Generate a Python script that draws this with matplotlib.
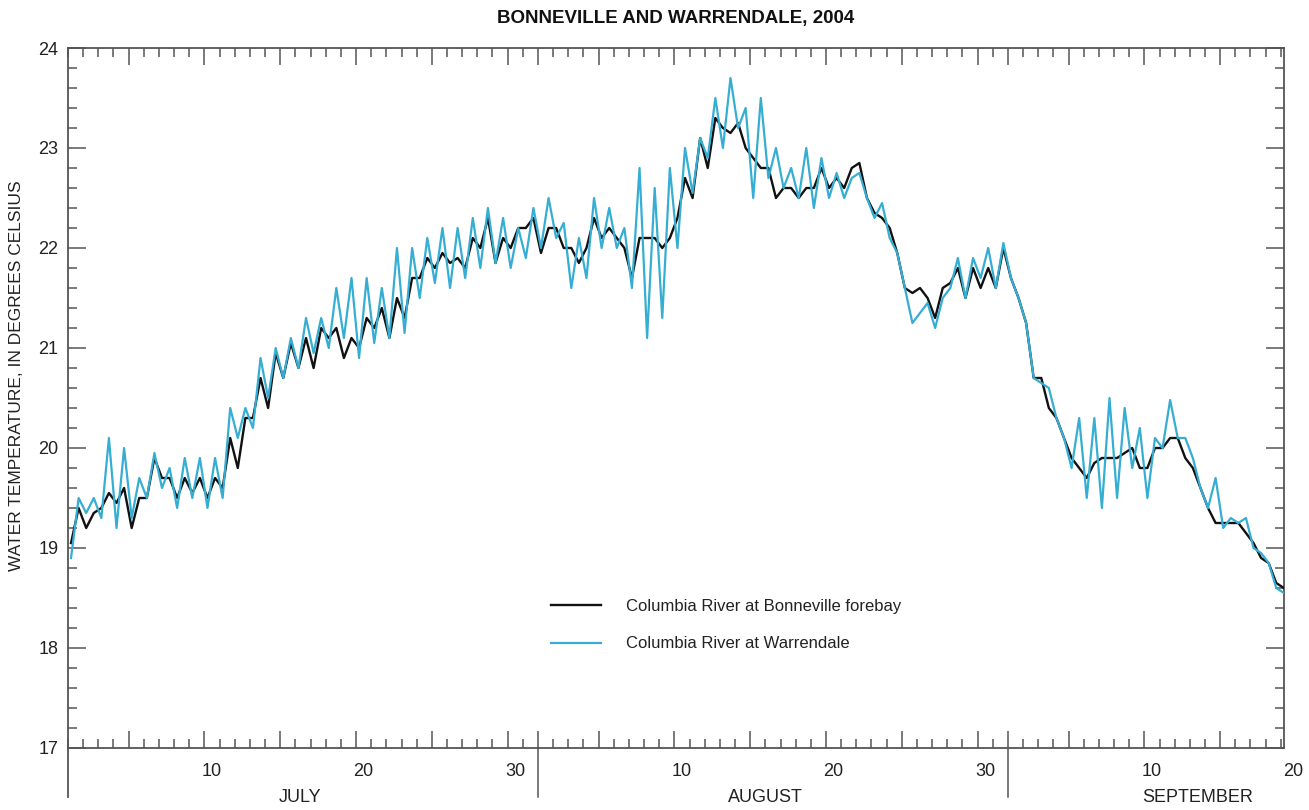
import numpy as np
import matplotlib
matplotlib.use("Agg")
import matplotlib.pyplot as plt
from matplotlib import font_manager
from matplotlib.ticker import MultipleLocator, FixedLocator
from matplotlib.lines import Line2D

# ---------------- data ----------------
# two readings per day (early-morning low, late-afternoon high), July 1 -> Sept 20, 2004
samples_per_day = 2
sample_offset = 0.2   # day fraction of first reading

bonneville = [
    19.05, 19.4, 19.2, 19.35, 19.4, 19.55, 19.45, 19.6, 19.2, 19.5,
    19.5, 19.9, 19.7, 19.7, 19.5, 19.7, 19.55, 19.7, 19.5, 19.7,
    19.6, 20.1, 19.8, 20.3, 20.3, 20.7, 20.4, 20.95, 20.7, 21.05,
    20.8, 21.1, 20.8, 21.2, 21.1, 21.2, 20.9, 21.1, 21.0, 21.3,
    21.2, 21.4, 21.1, 21.5, 21.3, 21.7, 21.7, 21.9, 21.8, 21.95,
    21.85, 21.9, 21.8, 22.1, 22.0, 22.3, 21.85, 22.1, 22.0, 22.2,
    22.2, 22.3, 21.95, 22.2, 22.2, 22.0, 22.0, 21.85, 22.0, 22.3,
    22.1, 22.2, 22.1, 22.0, 21.7, 22.1, 22.1, 22.1, 22.0, 22.1,
    22.3, 22.7, 22.5, 23.1, 22.8, 23.3, 23.2, 23.15, 23.25, 23.0,
    22.9, 22.8, 22.8, 22.5, 22.6, 22.6, 22.5, 22.6, 22.6, 22.8,
    22.6, 22.7, 22.6, 22.8, 22.85, 22.5, 22.35, 22.3, 22.2, 21.95,
    21.6, 21.55, 21.6, 21.5, 21.3, 21.6, 21.65, 21.8, 21.5, 21.8,
    21.6, 21.8, 21.6, 22.0, 21.7, 21.5, 21.25, 20.7, 20.7, 20.4,
    20.3, 20.1, 19.9, 19.8, 19.7, 19.85, 19.9, 19.9, 19.9, 19.95,
    20.0, 19.8, 19.8, 20.0, 20.0, 20.1, 20.1, 19.9, 19.8, 19.6,
    19.4, 19.25, 19.25, 19.25, 19.25, 19.15, 19.05, 18.9, 18.85, 18.65,
    18.6,
]

warrendale = [
    18.9, 19.5, 19.35, 19.5, 19.3, 20.1, 19.2, 20.0, 19.3, 19.7,
    19.5, 19.95, 19.6, 19.8, 19.4, 19.9, 19.5, 19.9, 19.4, 19.9,
    19.5, 20.4, 20.1, 20.4, 20.2, 20.9, 20.5, 21.0, 20.7, 21.1,
    20.8, 21.3, 20.95, 21.3, 21.0, 21.6, 21.1, 21.7, 20.9, 21.7,
    21.05, 21.6, 21.1, 22.0, 21.15, 22.0, 21.5, 22.1, 21.65, 22.2,
    21.6, 22.2, 21.7, 22.3, 21.8, 22.4, 21.85, 22.3, 21.8, 22.2,
    21.9, 22.4, 22.0, 22.5, 22.1, 22.25, 21.6, 22.1, 21.7, 22.5,
    22.0, 22.4, 22.0, 22.2, 21.6, 22.8, 21.1, 22.6, 21.3, 22.8,
    22.0, 23.0, 22.55, 23.1, 22.9, 23.5, 23.0, 23.7, 23.2, 23.4,
    22.5, 23.5, 22.7, 23.0, 22.6, 22.8, 22.5, 23.0, 22.4, 22.9,
    22.5, 22.75, 22.5, 22.7, 22.75, 22.5, 22.3, 22.45, 22.1, 21.95,
    21.6, 21.25, 21.35, 21.45, 21.2, 21.5, 21.6, 21.9, 21.5, 21.9,
    21.7, 22.0, 21.6, 22.05, 21.7, 21.5, 21.25, 20.7, 20.65, 20.6,
    20.3, 20.1, 19.8, 20.3, 19.5, 20.3, 19.4, 20.5, 19.5, 20.4,
    19.8, 20.2, 19.5, 20.1, 20.0, 20.48, 20.1, 20.1, 19.9, 19.6,
    19.4, 19.7, 19.2, 19.3, 19.25, 19.3, 19.0, 18.95, 18.85, 18.6,
    18.55,
]

series_labels = ["Columbia River at Bonneville forebay", "Columbia River at Warrendale"]
months = ["JULY", "AUGUST", "SEPTEMBER"]
month_lengths = [31, 31, 20]
day_labels = ["10", "20", "30", "10", "20", "30", "10", "20"]
title = "BONNEVILLE AND WARRENDALE, 2004"
ylabel = "WATER TEMPERATURE, IN DEGREES CELSIUS"

# ---------------- styling ----------------
avail = {f.name for f in font_manager.fontManager.ttflist}
fam = "Liberation Sans Narrow" if "Liberation Sans Narrow" in avail else (
    "Liberation Sans" if "Liberation Sans" in avail else "DejaVu Sans")
plt.rcParams["font.family"] = [fam, "DejaVu Sans"]

W, H = 1309, 810
fig = plt.figure(figsize=(W / 100, H / 100), dpi=100)
fig.patch.set_facecolor("white")
L, R, T, B = 68, 1284, 48, 748
ax = fig.add_axes([L / W, 1 - B / H, (R - L) / W, (B - T) / H])

t = sample_offset + np.arange(len(bonneville)) / samples_per_day
black_c = "#111111"
cyan_c = "#36aed3"
ax.plot(t, bonneville, color=black_c, lw=1.7, label=series_labels[0], zorder=3)
ax.plot(t, warrendale, color=cyan_c, lw=1.6, label=series_labels[1], zorder=4)

xmax = (R - L) / 15.16
ax.set_xlim(0, xmax)
ax.set_ylim(17, 24)

spine_c = "#555555"
for s in ax.spines.values():
    s.set_color(spine_c)
    s.set_linewidth(1.3)

txt_c = "#222222"
fs = 13

# y ticks
ax.yaxis.set_minor_locator(MultipleLocator(0.2))
ax.tick_params(axis="y", which="major", direction="in", length=13, width=1.1,
               color=spine_c, left=True, right=True, labelsize=fs, pad=7,
               labelcolor=txt_c)
ax.tick_params(axis="y", which="minor", direction="in", length=6.5, width=1.1,
               color=spine_c, left=True, right=True)
ax.set_yticks(range(17, 25))
ax.set_yticklabels([str(v) for v in range(17, 25)])

# x ticks: every day minor, every 5 days + month boundaries major
month_starts = np.cumsum([0] + month_lengths[:-1])
major = []
for ms, ml in zip(month_starts, month_lengths):
    major += [ms + d for d in range(4, ml, 5)]
major += list(month_starts[1:])
ax.xaxis.set_major_locator(FixedLocator(sorted(major)))
ax.xaxis.set_minor_locator(MultipleLocator(1))
ax.tick_params(axis="x", which="major", direction="in", length=12.5, width=1.1,
               color=spine_c, bottom=True, top=True, labelbottom=False)
ax.tick_params(axis="x", which="minor", direction="in", length=6.3, width=1.1,
               color=spine_c, bottom=True, top=True)

# day labels centred in day cells
lab_pos = []
for ms, ml in zip(month_starts, month_lengths):
    for d in (10, 20, 30):
        if d <= ml:
            lab_pos.append(ms + d - 0.5)
for p, lab in zip(lab_pos, day_labels):
    ax.text(min(p, xmax + 0.6), -24 / 700, lab, transform=ax.get_xaxis_transform(),
            ha="center", va="center", fontsize=fs, color=txt_c, clip_on=False)

month_centres = [15.3, 46.0, 74.5]
for c, m in zip(month_centres, months):
    ax.text(c, -50 / 700, m, transform=ax.get_xaxis_transform(), ha="center",
            va="center", fontsize=fs, color=txt_c, clip_on=False)

# left spine extension and month separators
ext = -49 / 700
ax.add_line(Line2D([0, 0], [0, ext], transform=ax.get_xaxis_transform(),
                   color=spine_c, lw=1.3, clip_on=False))
for ms in month_starts[1:]:
    ax.add_line(Line2D([ms, ms], [0, ext], transform=ax.get_xaxis_transform(),
                       color=spine_c, lw=1.1, clip_on=False))

fig.text(676 / W, 1 - 18 / H, title, ha="center", va="center", fontsize=13.5,
         fontweight="bold", color="#111111")
fig.text(17 / W, 1 - 376 / H, ylabel, ha="center", va="center", rotation=90,
         fontsize=12.5, color=txt_c)

leg = ax.legend(loc="upper left", bbox_to_anchor=((551 - L) / (R - L), (B - 599) / (B - T)),
                frameon=False, fontsize=12, handlelength=3.0, handletextpad=1.5,
                labelspacing=1.35, borderpad=0, borderaxespad=0)
for txt in leg.get_texts():
    txt.set_color(txt_c)

fig.savefig("out.png", dpi=100, facecolor="white")
